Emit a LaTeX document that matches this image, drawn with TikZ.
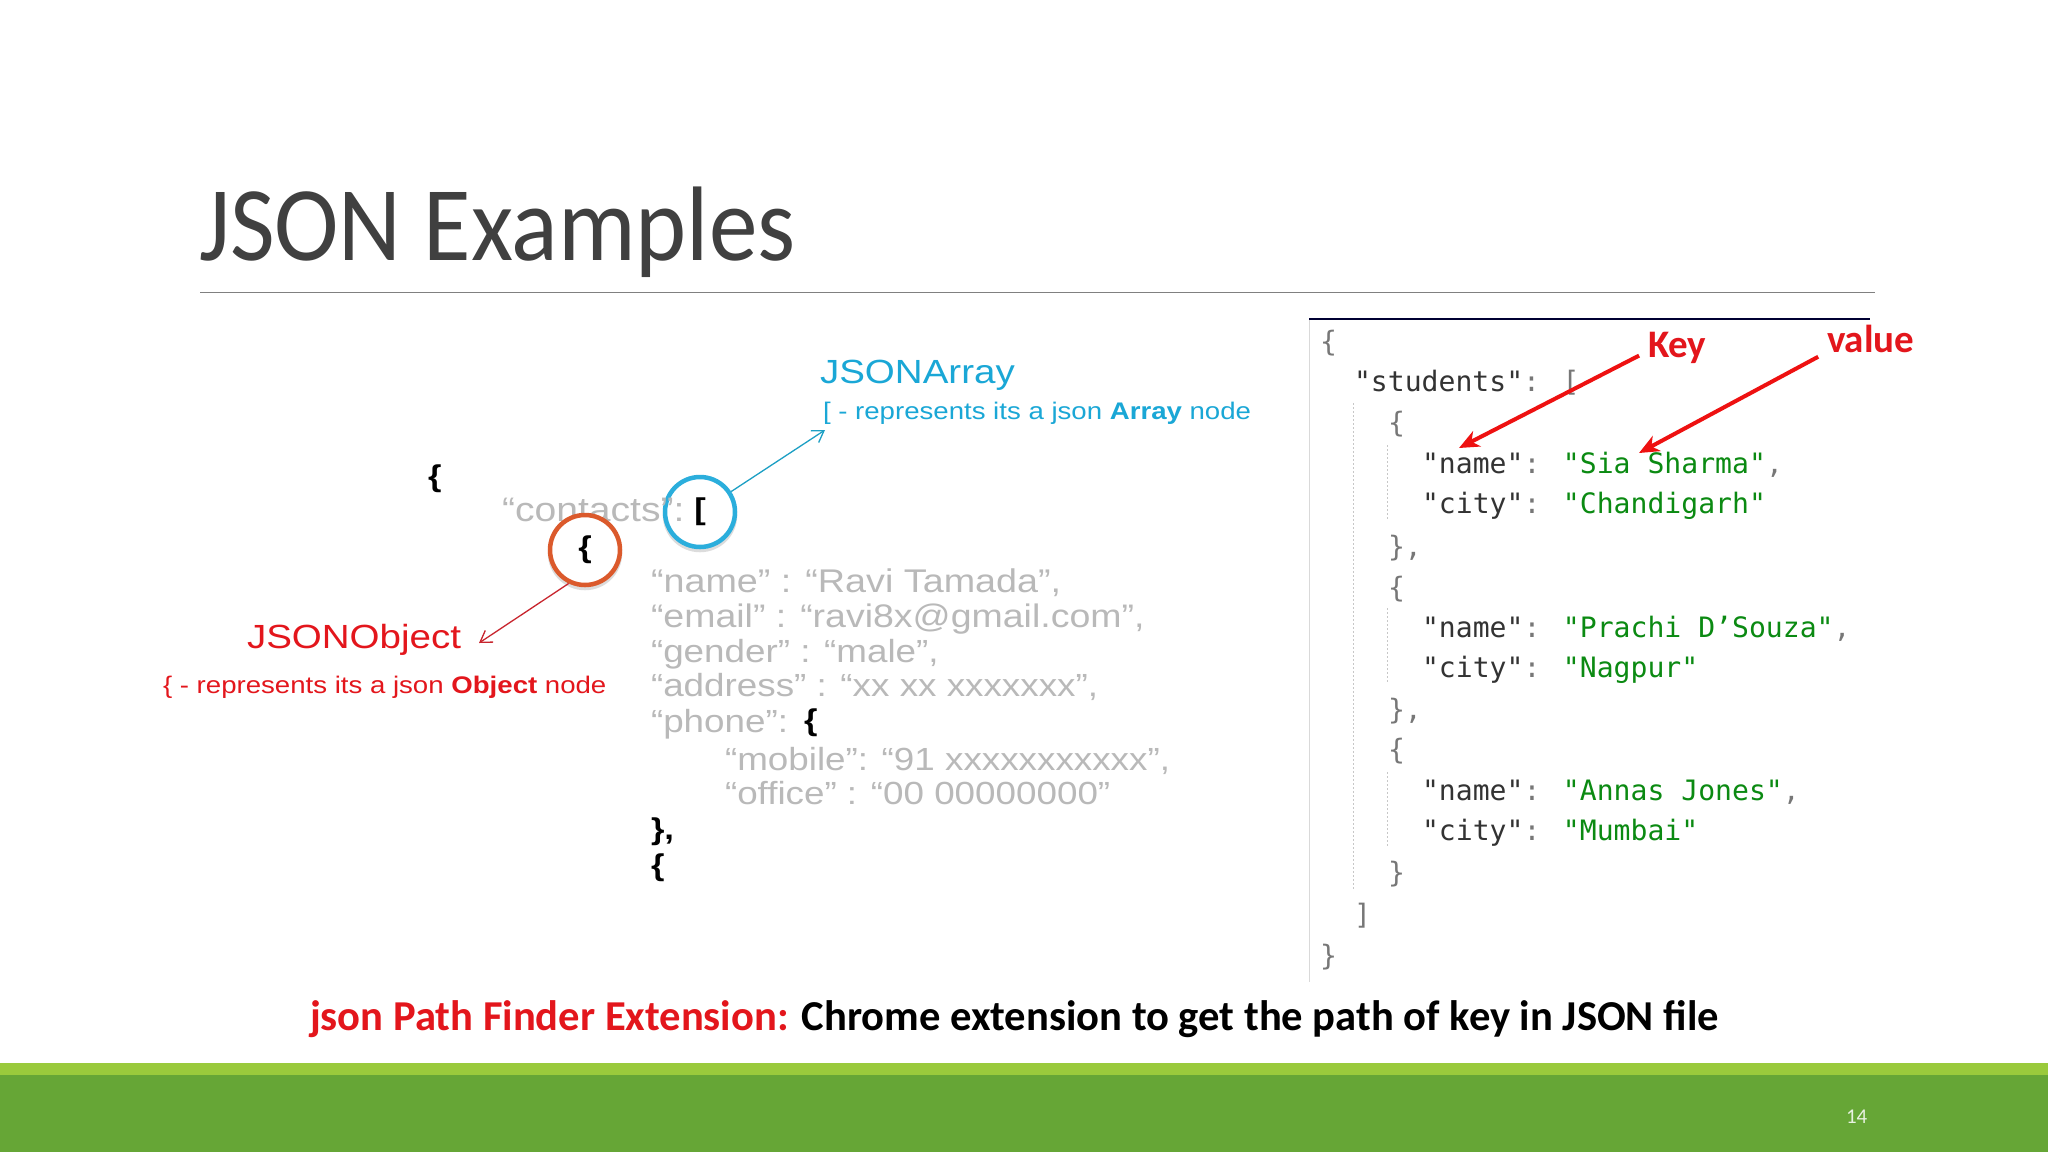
\documentclass[tikz,border=0pt]{standalone}
\usepackage{fontspec}
\setmainfont{Carlito}
\newfontfamily\monof{DejaVu Sans Mono}
\newfontfamily\widef[FakeStretch=1.15]{Liberation Sans}
\newfontfamily\titlef[FakeStretch=0.917]{Carlito}
\usetikzlibrary{arrows.meta,calc}
\definecolor{titlegray}{HTML}{404040}
\definecolor{barlight}{HTML}{9ACA3C}
\definecolor{bardark}{HTML}{66A636}
\definecolor{redtxt}{HTML}{E3161C}
\definecolor{arrowred}{HTML}{EE1111}
\definecolor{bluetxt}{HTML}{1AA7D6}
\definecolor{blueline}{HTML}{1C9FC4}
\definecolor{orangeline}{HTML}{DB5A2C}
\definecolor{blueringc}{HTML}{2BAEDC}
\definecolor{objline}{HTML}{C8252E}
\definecolor{fadedtxt}{HTML}{B9B9B9}
\definecolor{codekey}{HTML}{333333}
\definecolor{codegray}{HTML}{777777}
\definecolor{codeval}{HTML}{0B8A12}
\tikzset{
  txt/.style={anchor=base west,inner sep=0pt,outer sep=0pt},
  code/.style={txt,font=\monof\fontsize{28.1}{30}\selectfont,text=codekey},
  faded/.style={txt,font=\widef\fontsize{32}{36}\selectfont,text=fadedtxt},
  blk/.style={txt,font=\widef\bfseries\fontsize{30}{34}\selectfont,text=black},
  ring/.style={circle,minimum size=70pt,inner sep=0pt,line width=4.5pt,font=\widef\bfseries\fontsize{30}{34}\selectfont,text=black},
  ringshadow/.style={draw=black!30,line width=4.5pt,opacity=0.45},
  guide/.style={draw=black!22,line width=0.8pt,dash pattern=on 2pt off 2pt},
  thinarrow/.style={line width=1.3pt,-{Straight Barb[length=11pt,width=14pt,line width=1.3pt]}},
  bigarrow/.style={draw=arrowred,line width=4pt,-{Stealth[length=20pt,width=17pt,inset=6pt]}},
  callout/.style={txt,font=\bfseries\fontsize{39}{41}\selectfont,text=redtxt},
  jsonhead/.style={txt,font=\widef\fontsize{33.5}{36}\selectfont},
  jsondesc/.style={txt,font=\widef\fontsize{24}{28}\selectfont},
}
\newcommand{\kk}[1]{\textcolor{codekey}{#1}}
\newcommand{\vv}[1]{\textcolor{codeval}{#1}}
\newcommand{\cc}[1]{\textcolor{codegray}{#1}}
\begin{document}
\begin{tikzpicture}[x=1pt,y=-1pt]
\useasboundingbox (0,0) rectangle (2048,1152);
\fill[white] (0,0) rectangle (2048,1152);
% footer
\fill[barlight] (0,1063) rectangle (2048,1075);
\fill[bardark] (0,1075) rectangle (2048,1152);
\node[txt,font=\fontsize{21}{24}\selectfont,text=white!85!bardark] (pageno) at (1846,1123) {14};
% title
\node[txt,font=\titlef\fontsize{106}{110}\selectfont,text=titlegray] (title) at (199,260) {JSON Examples};
\fill[black!50] (200,291.5) rectangle (1875,292.5);
% left panel
\node[blk] (outerbrace) at (428,486.5) {\{};
\draw[ringshadow] (700,515) circle (35pt);
\node[ring,draw=blueringc,fill=white] (arrring) at (700,512) {[};
\node[faded,font=\widef\fontsize{34}{36}\selectfont] (contacts) at (502,521) {“contacts”:};
\draw[ringshadow] (585,553) circle (35pt);
\node[ring,draw=orangeline,fill=white] (objring) at (585,550) {\{};
\node[faded,font=\widef\fontsize{32.8}{36}\selectfont] (l1) at (651,592) {“name” : “Ravi Tamada”,};
\node[faded,font=\widef\fontsize{32.6}{36}\selectfont] (l2) at (651,627) {“email” : “ravi8x@gmail.com”,};
\node[faded] (l3) at (651,662) {“gender” : “male”,};
\node[faded] (l4) at (651,696) {“address” : “xx xx xxxxxxx”,};
\node[faded] (l5) at (651,732) {“phone”:};
\node[blk] (phbrace) at (804,730) {\{};
\node[faded] (l6) at (725,770) {“mobile”: “91 xxxxxxxxxxx”,};
\node[faded] (l7) at (725,804) {“office” : “00 00000000”};
\node[blk] (close) at (651,839) {\},};
\node[blk] (nextbrace) at (651,875) {\{};
% labels
\node[jsonhead,text=redtxt] (objhead) at (247,648) {JSONObject};
\node[jsondesc,text=redtxt] (objdesc) at (163,693) {\{ - represents its a json \textbf{Object} node};
\node[jsonhead,text=bluetxt] (arrhead) at (820,383) {JSONArray};
\node[jsondesc,text=bluetxt] (arrdesc) at (823,419) {[ - represents its a json \textbf{Array} node};
\coordinate (objtip) at (479,643);
\coordinate (arrtip) at (825,430);
\draw[thinarrow,draw=objline] (objring.-116) -- (objtip);
\draw[thinarrow,draw=blueline] (arrring) -- (arrtip);
% right panel
\draw[black!15,line width=1pt] (1309,319) -- (1309,982);
\draw[black!80!blue,line width=1.2pt] (1309,319) -- (1870,319);
\draw[guide] (1353,403) -- (1353,890);
\draw[guide] (1387.5,445) -- (1387.5,520);
\draw[guide] (1387.5,608) -- (1387.5,683);
\draw[guide] (1387.5,772) -- (1387.5,847);
\node[code] (c1) at (1320,351) {\cc{\{}};
\node[code] (c2) at (1354,391) {"students"\cc{:} \cc{[}};
\node[code] (c3) at (1388,432) {\cc{\{}};
\node[code] (c4) at (1422,473) {"name"\cc{:} \vv{"Sia Sharma"}\cc{,}};
\node[code] (c5) at (1422,513) {"city"\cc{:} \vv{"Chandigarh"}};
\node[code] (c6) at (1388,556) {\cc{\},}};
\node[code] (c7) at (1388,597) {\cc{\{}};
\node[code] (c8) at (1422,637) {"name"\cc{:} \vv{"Prachi D’Souza"}\cc{,}};
\node[code] (c9) at (1422,677) {"city"\cc{:} \vv{"Nagpur"}};
\node[code] (c10) at (1388,719) {\cc{\},}};
\node[code] (c11) at (1388,759) {\cc{\{}};
\node[code] (c12) at (1422,800) {"name"\cc{:} \vv{"Annas Jones"}\cc{,}};
\node[code] (c13) at (1422,840) {"city"\cc{:} \vv{"Mumbai"}};
\node[code] (c14) at (1388,882) {\cc{\}}};
\node[code] (c15) at (1354,924) {\cc{]}};
\node[code] (c16) at (1320,965) {\cc{\}}};
% callouts
\node[callout] (keylab) at (1648,357) {Key};
\node[callout] (vallab) at (1827,352) {value};
\coordinate (keytip) at (1459,448);
\coordinate (valtip) at (1639,453);
\draw[bigarrow,shorten <=10pt] (keylab.base west) ++(0,-6) -- (keytip);
\draw[bigarrow,shorten <=10pt] (vallab.base west) -- (valtip);
% bottom line
\node[txt,font=\bfseries\fontsize{42.6}{45}\selectfont] (bottom) at (310,1030) {\textcolor{redtxt}{json Path Finder Extension:} \textcolor{black}{Chrome extension to get the path of key in JSON file}};
\end{tikzpicture}
\end{document}
